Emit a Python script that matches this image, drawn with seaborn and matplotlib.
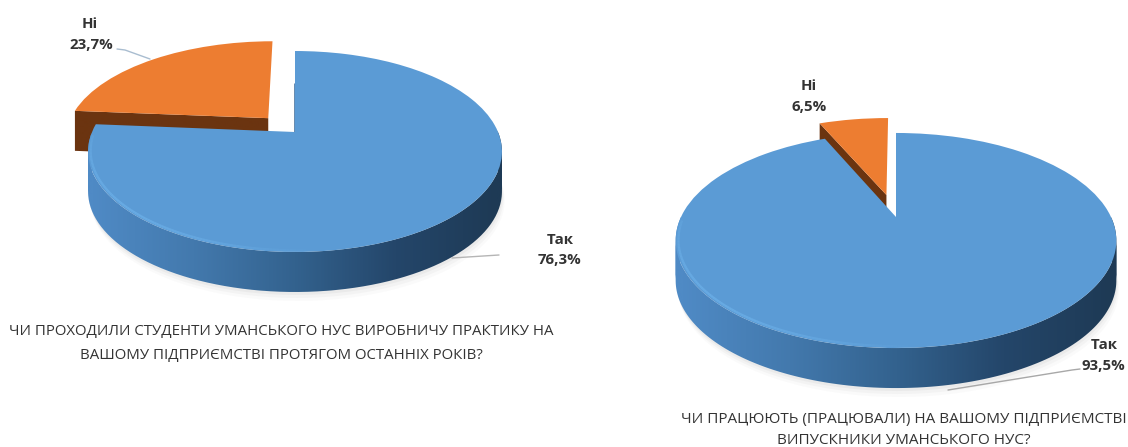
import numpy as np
import matplotlib
matplotlib.use("Agg")
import matplotlib.pyplot as plt
from matplotlib.collections import LineCollection
from matplotlib.path import Path
from matplotlib.transforms import Affine2D, Transform
import seaborn as sns

# Survey shares, in percent
categories = ["Так", "Ні"]
practice_share = [76.3, 23.7]
employed_share = [93.5, 6.5]
practice_title = [
    "ЧИ ПРОХОДИЛИ СТУДЕНТИ УМАНСЬКОГО НУС ВИРОБНИЧУ ПРАКТИКУ НА",
    "ВАШОМУ ПІДПРИЄМСТВІ ПРОТЯГОМ ОСТАННІХ РОКІВ?",
]
employed_title = [
    "ЧИ ПРАЦЮЮТЬ (ПРАЦЮВАЛИ) НА ВАШОМУ ПІДПРИЄМСТВІ",
    "ВИПУСКНИКИ УМАНСЬКОГО НУС?",
]

FIG_W, FIG_H = 1128, 447
TEXT = "#333333"

sns.set_theme(style="white")
plt.rcParams["font.family"] = ["Open Sans", "DejaVu Sans"]
palette = sns.color_palette(["#5b9bd5", "#ed7d31"])
blue_side = sns.blend_palette(["#4f8ac5", "#4379ad", "#33628e", "#24466a", "#1e3a55"], as_cmap=True)
orange_side = sns.blend_palette(["#6b3410", "#6b3410"], as_cmap=True)


class TiltedDisk(Transform):
    """Perspective view of the unit disk lying on a table, in pixel coordinates."""
    input_dims = output_dims = 2

    def __init__(self, cx, cy, rx, ry, k, drop=0.0):
        super().__init__()
        self.cx, self.cy, self.rx, self.ry, self.k, self.drop = cx, cy, rx, ry, k, drop

    def transform_non_affine(self, values):
        values = np.asarray(values, dtype=float)
        w = 1 + self.k * values[:, 1]
        return np.column_stack([
            self.cx + self.rx * values[:, 0] / w,
            self.cy - self.ry * values[:, 1] / w + self.drop,
        ])


def wedge_outline(wedge):
    to_pie = wedge.get_patch_transform() + Affine2D().scale(800)
    return wedge.get_path().to_polygons(to_pie, closed_only=True)[0] / 800


def signed_area(quad):
    x, y = np.asarray(quad).T
    return np.sum(x * np.roll(y, -1) - np.roll(x, -1) * y)


def draw_side(ax, wedge, view, depth, ramp, zorder):
    """Extrude the viewer-facing edges of a wedge downwards, shaded from left to right."""
    pts = wedge_outline(wedge)
    # Orient the outline so the outward normal can be read from each segment
    if signed_area(pts[:-1]) < 0:
        pts = pts[::-1]
    top = view.transform(pts)
    low = TiltedDisk(view.cx, view.cy, view.rx, view.ry, view.k, depth).transform(pts)
    verts, codes = [], []
    for i in range(len(pts) - 1):
        if pts[i + 1, 0] - pts[i, 0] > 1e-6:  # outward normal points towards the viewer
            quad = [top[i], top[i + 1], low[i + 1], low[i]]
            if signed_area(quad) < 0:  # one winding, so overlapping quads add up
                quad = quad[::-1]
            verts += quad + [quad[0]]
            codes += [Path.MOVETO, Path.LINETO, Path.LINETO, Path.LINETO, Path.CLOSEPOLY]
    left, right = view.cx - view.rx * 1.3, view.cx + view.rx * 1.3
    xs = np.linspace(left, right, 512)
    gradient = np.clip((xs - (view.cx - view.rx)) / (2 * view.rx), 0, 1)
    image = ax.imshow(gradient[None, :], cmap=ramp, vmin=0, vmax=1, aspect="auto",
                      interpolation="bilinear", zorder=zorder,
                      extent=(left, right, view.cy + view.ry * 2, view.cy - view.ry * 2))
    image.set_clip_path(Path(np.array(verts), codes), transform=ax.transData)


def draw_rim(ax, view, zorder):
    """Thin bevel highlight on the front-left rim of the top face, fading to the right."""
    theta = np.radians(np.linspace(182, 275, 120))
    rim = view.transform(0.988 * np.column_stack([np.cos(theta), np.sin(theta)]))
    segments = np.stack([rim[:-1], rim[1:]], axis=1)
    fade = 0.6 * np.sin(np.linspace(0.12, 1.0, len(segments)) * np.pi)
    colors = [(0.44, 0.71, 0.93, a) for a in fade]
    ax.add_collection(LineCollection(segments, colors=colors, linewidths=1.7, zorder=zorder))


def draw_pie(ax, shares, explode, cx, cy, rx, ry, k, depth, inner_edge=False):
    wedges, _ = ax.pie(shares, explode=[0, explode], startangle=90, counterclock=False,
                       colors=palette, wedgeprops={"linewidth": 0})
    view = TiltedDisk(cx, cy, rx, ry, k)
    # Soft shadow on the table under the front rim
    theta = np.radians(np.arange(180, 361, 3))
    ring = np.column_stack([np.cos(theta), np.sin(theta)])
    for step, alpha in zip((9, 6, 3), (0.03, 0.05, 0.07)):
        shifted = TiltedDisk(cx + step * 0.3, cy, rx, ry, k, depth + step).transform(ring)
        ax.fill(shifted[:, 0], shifted[:, 1], color="#7f7f7f", alpha=alpha, lw=0, zorder=0.5)
    # Back wedge first, so that the large slice overlaps it
    draw_side(ax, wedges[1], view, depth, orange_side, 1)
    wedges[1].set_transform(view + ax.transData)
    wedges[1].set_zorder(2)
    draw_side(ax, wedges[0], view, depth, blue_side, 3)
    wedges[0].set_transform(view + ax.transData)
    wedges[0].set_zorder(4)
    draw_rim(ax, view, 4.5)
    if inner_edge:
        edge = view.transform(np.array([[0.0, 0.0], [0.0, 0.55]]))
        ax.plot(edge[:, 0] - 0.5, edge[:, 1], color="#3a6a98", lw=1.1, zorder=3.5)
    return wedges


fig = plt.figure(figsize=(FIG_W / 100, FIG_H / 100), dpi=100)
ax = fig.add_axes([0, 0, 1, 1])

draw_pie(ax, practice_share, 0.2, 295, 132, 203, 96.7, 0.194, 40, inner_edge=True)
draw_pie(ax, employed_share, 0.23, 896, 217, 215, 102.4, 0.2186, 40)

ax.set_aspect("auto")
ax.set_xlim(0, FIG_W)
ax.set_ylim(FIG_H, 0)
ax.set_axis_off()


def pct(value):
    return f"{value:.1f}%".replace(".", ",")


# Category names and percentages beside the leader lines
labels = [
    (90, 24, categories[1]), (91, 45, pct(practice_share[1])),
    (560, 240, categories[0]), (560, 260, pct(practice_share[0])),
    (809, 86, categories[1]), (809, 107, pct(employed_share[1])),
    (1104, 345, categories[0]), (1103, 366, pct(employed_share[0])),
]
for x, y, text in labels:
    ax.text(x, y, text, ha="center", va="center", fontsize=10.8, fontweight="bold",
            color=TEXT, zorder=6)

ax.plot([117, 125, 150], [49, 50, 59], color="#a9bdd0", lw=1, zorder=5)
ax.plot([452, 499], [258, 255], color="#b5b5b5", lw=1, zorder=5)
ax.plot([948, 1072, 1080], [390, 370, 369], color="#a8a8a8", lw=1, zorder=5)

for x, y, line, size in [(281, 332, practice_title[0], 10.8), (281, 355, practice_title[1], 10.8),
                         (903.5, 420, employed_title[0], 10.95), (904, 441, employed_title[1], 10.95)]:
    ax.text(x, y, line, ha="center", va="center", fontsize=size, color=TEXT, zorder=6)

fig.savefig("out.png", dpi=100, facecolor="white")
